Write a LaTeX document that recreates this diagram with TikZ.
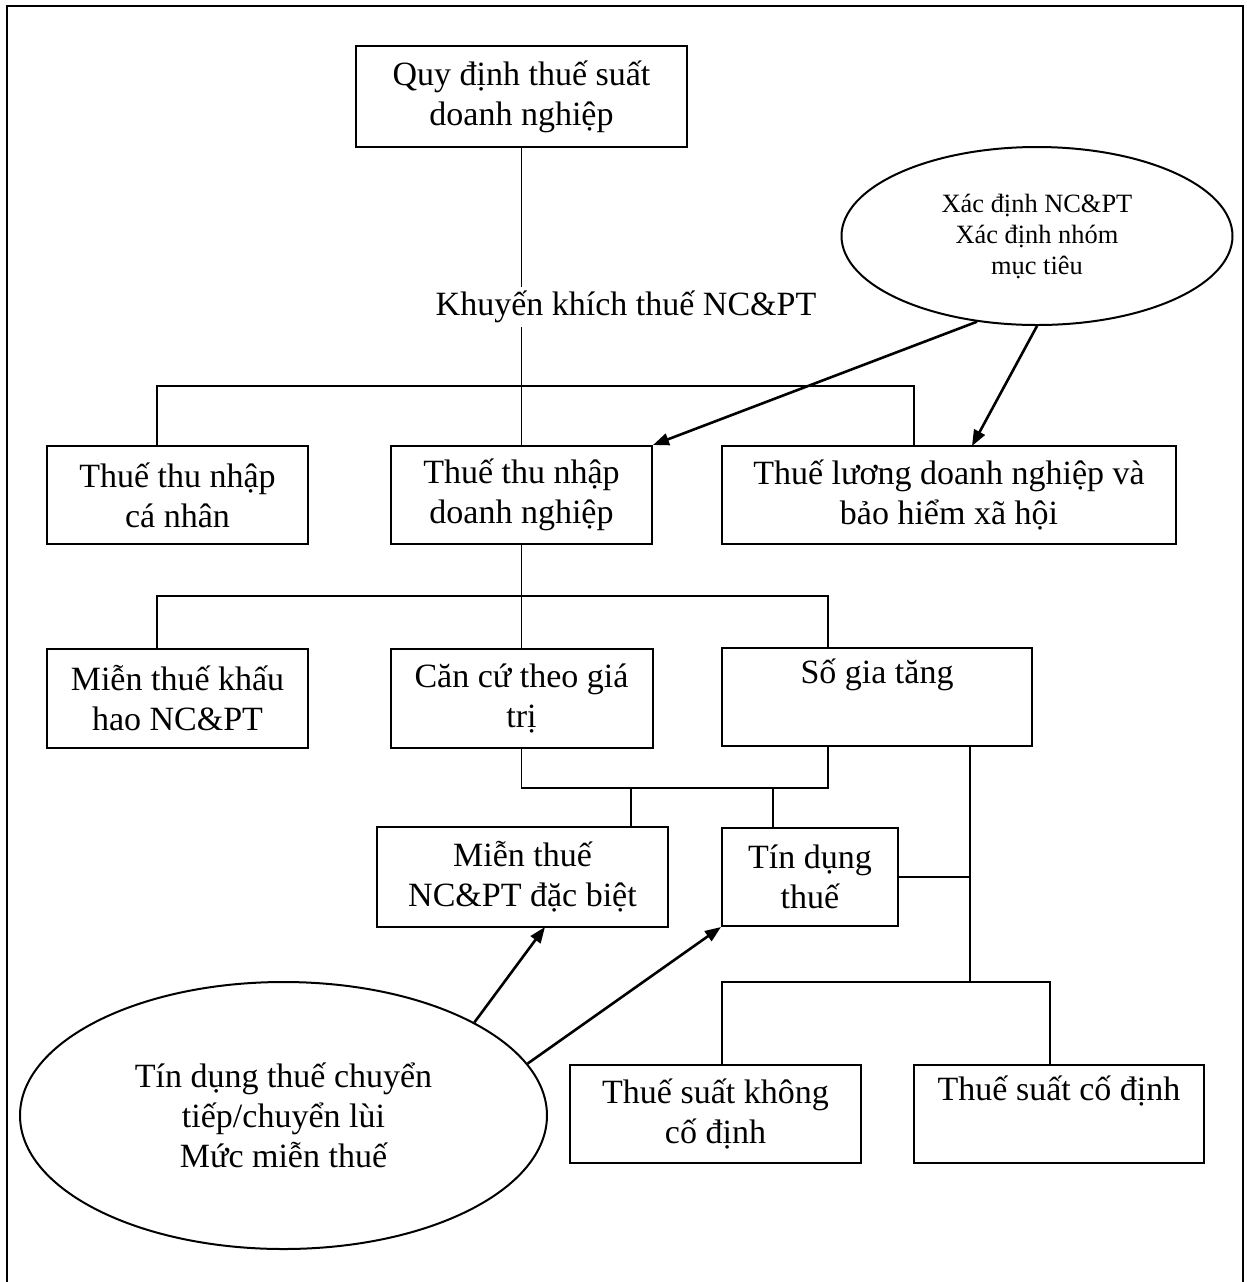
\documentclass[tikz,border=0pt]{standalone}
\usepackage{fontspec}
\setmainfont{Liberation Serif}
\usetikzlibrary{positioning, arrows.meta, shapes.geometric}

\begin{document}
\begin{tikzpicture}[
      x=0.5pt, y=-0.5pt,
      box_tax/.style={rectangle, draw, line width=1pt, align=center, inner sep=0pt, font=\fontsize{17pt}{20pt}\selectfont},
      ell_note/.style={ellipse, draw, line width=1pt, align=center, inner sep=0pt},
      edge_line/.style={line width=0.8pt},
      edge_arrow/.style={-{Triangle[length=8pt, width=6pt]}, line width=1.3pt}
    ]
      \useasboundingbox (0,0) rectangle (1247,1282);
      \draw[line width=1.2pt] (7,1282) -- (7,6) -- (1243,6) -- (1243,1282);

      \node[box_tax, minimum width=165.5pt, minimum height=50.5pt] (Rule) at (521.5,96.5) {Quy định thuế suất\\doanh nghiệp};
      \node[box_tax, minimum width=130.5pt, minimum height=49pt] (PIT) at (177.5,495) {Thuế thu nhập\\cá nhân};
      \node[box_tax, minimum width=130.5pt, minimum height=49pt] (CIT) at (521.5,495) {Thuế thu nhập\\doanh nghiệp};
      \node[box_tax, minimum width=227pt, minimum height=49pt] (Payroll) at (949,495) {Thuế lương doanh nghiệp và\\bảo hiểm xã hội};
      \node[box_tax, minimum width=130.5pt, minimum height=49.5pt] (Deprec) at (177.5,698.5) {Miễn thuế khấu\\hao NC\&PT};
      \node[box_tax, minimum width=131pt, minimum height=49.5pt] (Value) at (521.5,698.5) {Căn cứ theo giá\\trị};
      \node[box_tax, minimum width=155pt, minimum height=49pt] (Incr) at (877,697) {Số gia tăng\\\strut};
      \node[box_tax, minimum width=145.5pt, minimum height=50pt] (Special) at (522.5,877) {Miễn thuế\\NC\&PT đặc biệt};
      \node[box_tax, minimum width=88pt, minimum height=49pt] (Credit) at (810,877) {Tín dụng\\thuế};
      \node[box_tax, minimum width=145.5pt, minimum height=49pt] (NonFixed) at (715.5,1114) {Thuế suất không\\cố định};
      \node[box_tax, minimum width=145pt, minimum height=49pt] (Fixed) at (1059,1114) {Thuế suất cố định\\\strut};
      \node[ell_note, font=\fontsize{13.2pt}{15.5pt}\selectfont, minimum width=195.5pt, minimum height=89pt] (Target) at (1037,236) {Xác định NC\&PT\\Xác định nhóm\\mục tiêu};
      \node[ell_note, font=\fontsize{17pt}{20pt}\selectfont, minimum width=263.5pt, minimum height=133.5pt] (Carry) at (283.5,1115.5) {Tín dụng thuế chuyển\\tiếp/chuyển lùi\\Mức miễn thuế};

      % tree connectors
      \draw[edge_line] (Rule) -- (CIT);
      \node[fill=white, inner sep=2pt, font=\fontsize{17pt}{20pt}\selectfont] (Incent) at (626,307) {Khuyến khích thuế NC\&PT};

      \coordinate (BusA_L) at (157,386);
      \coordinate (BusA_R) at (914,386);
      \draw[edge_line] (PIT.north -| BusA_L) |- (BusA_R) -- (Payroll.north -| BusA_R);

      \coordinate (BusB_L) at (157,596);
      \coordinate (BusB_R) at (828,596);
      \draw[edge_line] (CIT) -- (Value);
      \draw[edge_line] (Deprec.north -| BusB_L) |- (BusB_R) -- (Incr.north -| BusB_R);

      \coordinate (BusC_R) at (828,788);
      \coordinate (TapS) at (631,788);
      \coordinate (TapC) at (773,788);
      \draw[edge_line] (Value.south) |- (BusC_R) -- (Incr.south -| BusC_R);
      \draw[edge_line] (TapS) -- (Special.north -| TapS);
      \draw[edge_line] (TapC) -- (Credit.north -| TapC);

      \coordinate (Trunk) at (970,982);
      \coordinate (BusD_L) at (722,982);
      \coordinate (BusD_R) at (1050,982);
      \draw[edge_line] (Incr.south -| Trunk) -- (Trunk);
      \draw[edge_line] (Credit.east) -- (Credit.east -| Trunk);
      \draw[edge_line] (NonFixed.north -| BusD_L) |- (BusD_R) -- (Fixed.north -| BusD_R);

      % arrows from the notes
      \coordinate (PayTip) at (972,446);
      \coordinate (SpecTip) at (545,927);
      \draw[edge_arrow] (Target.235) -- (CIT.north east);
      \draw[edge_arrow] (Target.south) -- (PayTip);
      \draw[edge_arrow] (Carry.26) -- (SpecTip);
      \draw[edge_arrow] (Carry.12) -- (Credit.south west);
    \end{tikzpicture}
\end{document}
